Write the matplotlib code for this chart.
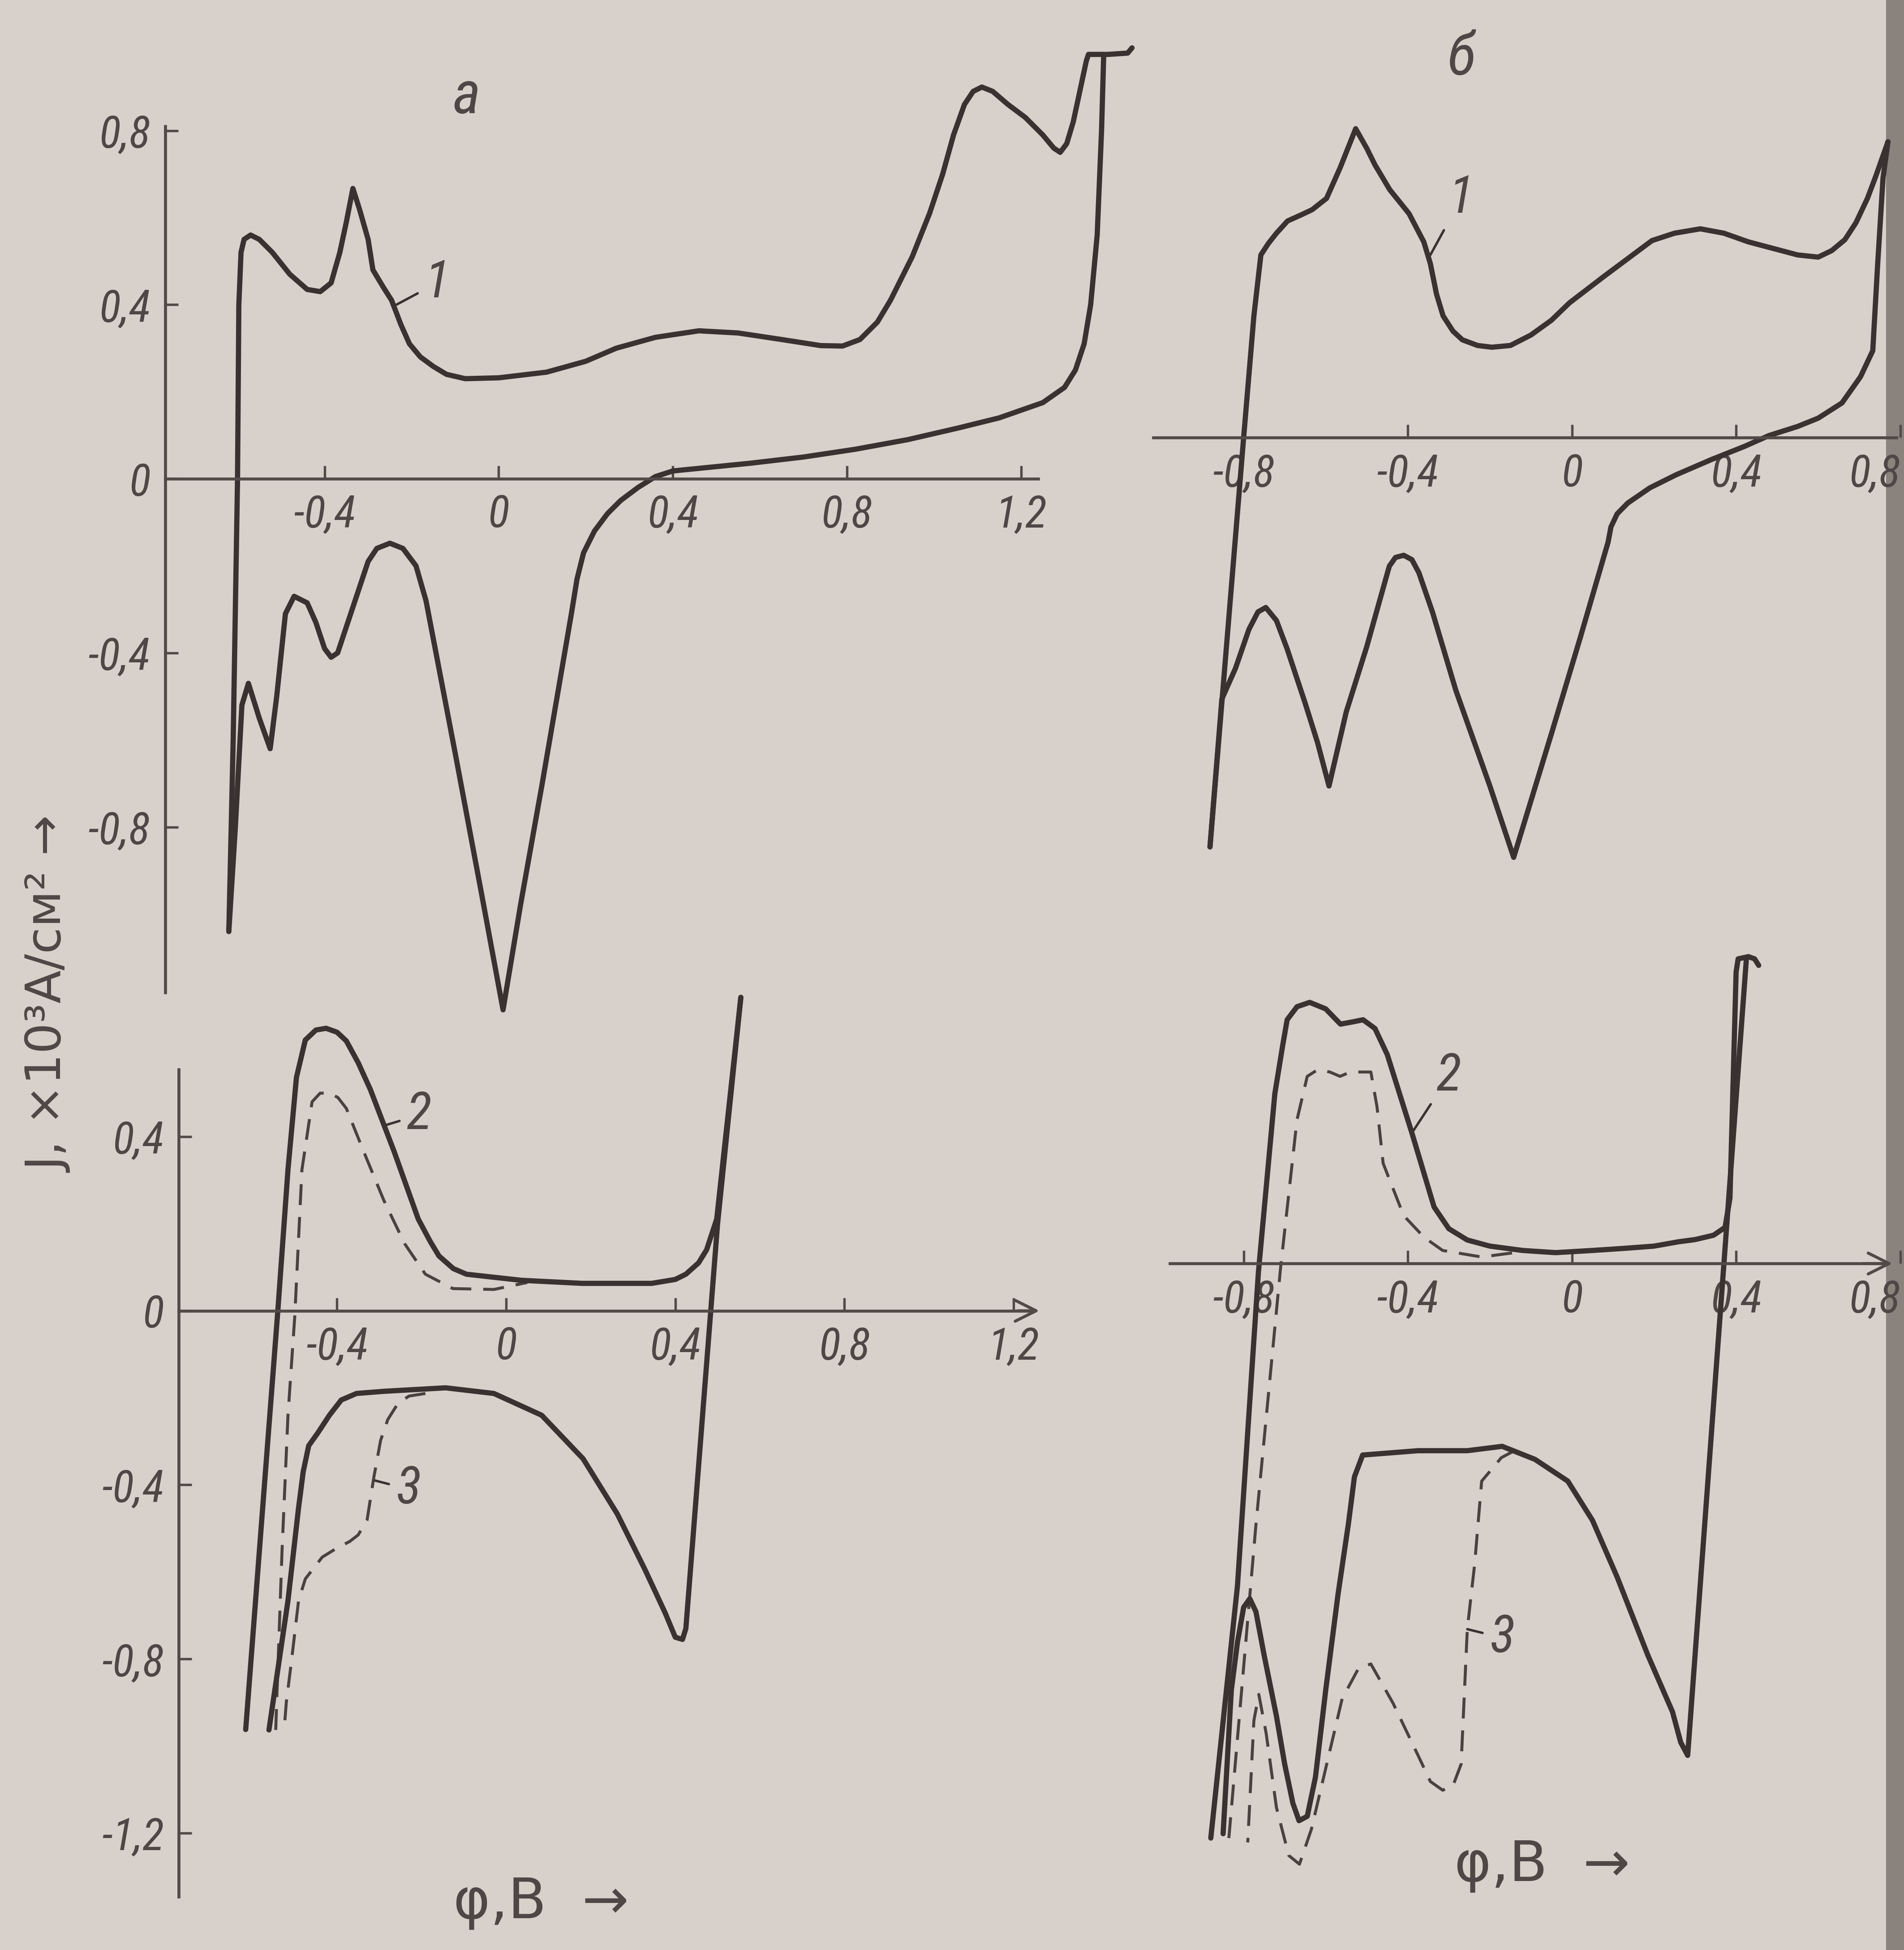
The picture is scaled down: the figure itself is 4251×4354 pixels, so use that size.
import matplotlib
matplotlib.use('Agg')
import matplotlib.pyplot as plt
from matplotlib import font_manager
from matplotlib.ticker import FuncFormatter
from matplotlib.patches import Rectangle

# ---- data (phi in V, J x10^3 A/cm^2) ----
# panel a, curve 1 : anodic and cathodic branches
a1_up_x = [-0.62, -0.61, -0.60, -0.597, -0.592, -0.585, -0.57, -0.55, -0.52, -0.48, -0.44, -0.41,
           -0.385, -0.365, -0.35, -0.335, -0.32, -0.30, -0.289, -0.265, -0.246, -0.225, -0.205,
           -0.18, -0.15, -0.12, -0.077, 0.0, 0.11, 0.20, 0.27, 0.36, 0.46, 0.55, 0.65, 0.74, 0.79,
           0.83, 0.87, 0.90, 0.95, 0.99, 1.02, 1.045, 1.07, 1.09, 1.11, 1.135, 1.17, 1.21, 1.25,
           1.275, 1.29, 1.305, 1.32, 1.335, 1.35, 1.355, 1.40, 1.445, 1.455]
a1_up_y = [-1.04, -0.60, 0.0, 0.40, 0.52, 0.55, 0.56, 0.55, 0.52, 0.47, 0.435, 0.43,
           0.45, 0.52, 0.59, 0.667, 0.62, 0.55, 0.48, 0.44, 0.41, 0.355, 0.31,
           0.28, 0.258, 0.24, 0.23, 0.232, 0.245, 0.27, 0.30, 0.325, 0.34, 0.335, 0.32, 0.306,
           0.305, 0.32, 0.36, 0.41, 0.51, 0.61, 0.70, 0.79, 0.86, 0.89, 0.90, 0.89, 0.86, 0.83,
           0.79, 0.76, 0.75, 0.77, 0.82, 0.89, 0.96, 0.975, 0.975, 0.978, 0.99]
a1_dn_x = [1.39, 1.385, 1.375, 1.36, 1.345, 1.325, 1.30, 1.25, 1.15, 1.057, 0.94, 0.82, 0.70,
           0.58, 0.47, 0.40, 0.36, 0.32, 0.28, 0.25, 0.22, 0.195, 0.18, 0.167, 0.10, 0.05, 0.01,
           -0.04, -0.10, -0.167, -0.19, -0.22, -0.25, -0.28, -0.30, -0.34, -0.37, -0.385, -0.40,
           -0.42, -0.44, -0.47, -0.49, -0.51, -0.525, -0.55, -0.575, -0.59, -0.605, -0.62]
a1_dn_y = [0.975, 0.80, 0.56, 0.40, 0.31, 0.25, 0.21, 0.175, 0.14, 0.117, 0.09, 0.068, 0.05,
           0.036, 0.025, 0.018, 0.005, -0.02, -0.05, -0.08, -0.12, -0.17, -0.23, -0.31, -0.70,
           -0.98, -1.22, -0.95, -0.63, -0.28, -0.20, -0.16, -0.148, -0.16, -0.19, -0.31, -0.40,
           -0.41, -0.39, -0.33, -0.285, -0.27, -0.31, -0.50, -0.62, -0.55, -0.47, -0.52,
           -0.80, -1.04]

# panel a, curve 2 (anodic) and curve 3 (cathodic); solid and dashed runs
a2_x = [-0.616, -0.578, -0.54, -0.516, -0.496, -0.475, -0.45, -0.426, -0.40, -0.378, -0.35,
        -0.321, -0.265, -0.208, -0.18, -0.159, -0.125, -0.094, 0.036, 0.18, 0.344, 0.40, 0.425,
        0.455, 0.474, 0.498, 0.555]
a2_y = [-0.962, -0.48, 0.0, 0.324, 0.536, 0.622, 0.645, 0.649, 0.64, 0.62, 0.57,
        0.508, 0.366, 0.211, 0.16, 0.126, 0.097, 0.084, 0.070, 0.063, 0.063, 0.072, 0.084,
        0.11, 0.14, 0.211, 0.72]
a3_x = [0.555, 0.50, 0.425, 0.417, 0.40, 0.376, 0.328, 0.263, 0.182, 0.084, -0.029, -0.143,
        -0.289, -0.354, -0.39, -0.418, -0.445, -0.467, -0.48, -0.491, -0.516, -0.561]
a3_y = [0.72, 0.20, -0.73, -0.755, -0.75, -0.694, -0.594, -0.467, -0.34, -0.24, -0.19,
        -0.177, -0.185, -0.19, -0.205, -0.24, -0.28, -0.31, -0.37, -0.453, -0.666, -0.963]
a2d_x = [-0.545, -0.53, -0.516, -0.50, -0.483, -0.459, -0.44, -0.418, -0.398, -0.378, -0.337,
         -0.289, -0.24, -0.191, -0.126, -0.029, 0.05]
a2d_y = [-0.963, -0.55, -0.24, -0.014, 0.324, 0.48, 0.50, 0.50, 0.49, 0.465, 0.366,
         0.253, 0.154, 0.084, 0.051, 0.049, 0.065]
a3d_x = [-0.191, -0.23, -0.256, -0.28, -0.297, -0.313, -0.329, -0.35, -0.37, -0.40, -0.435,
         -0.475, -0.491, -0.508, -0.52, -0.525]
a3d_y = [-0.19, -0.196, -0.213, -0.25, -0.298, -0.383, -0.481, -0.515, -0.53, -0.545, -0.566,
         -0.616, -0.666, -0.807, -0.90, -0.963]

# panel b, curve 1
b1_up_x = [-0.882, -0.80, -0.775, -0.758, -0.74, -0.72, -0.693, -0.66, -0.633, -0.598,
           -0.565, -0.527, -0.50, -0.48, -0.444, -0.397, -0.361, -0.345, -0.33, -0.314, -0.29,
           -0.267, -0.23, -0.195, -0.15, -0.10, -0.05, -0.006, 0.077, 0.195, 0.25, 0.313,
           0.37, 0.43, 0.55, 0.60, 0.633, 0.665, 0.692, 0.72, 0.74, 0.77]
b1_up_y = [-0.94, 0.0, 0.28, 0.42, 0.446, 0.47, 0.498, 0.512, 0.524, 0.55,
           0.62, 0.71, 0.665, 0.627, 0.57, 0.515, 0.45, 0.40, 0.33, 0.28, 0.245,
           0.225, 0.212, 0.208, 0.212, 0.236, 0.27, 0.31, 0.37, 0.453, 0.47, 0.48,
           0.47, 0.45, 0.42, 0.415, 0.43, 0.455, 0.494, 0.55, 0.60, 0.68]
b1_dn_x = [0.77, 0.758, 0.745, 0.733, 0.703, 0.658, 0.60, 0.55, 0.48, 0.42, 0.34, 0.254,
           0.19, 0.136, 0.11, 0.095, 0.088, 0.02, -0.05, -0.142, -0.20, -0.283, -0.34, -0.373,
           -0.39, -0.41, -0.43, -0.445, -0.50, -0.55, -0.592, -0.62, -0.65, -0.694, -0.72,
           -0.746, -0.765, -0.787, -0.82, -0.853, -0.882]
b1_dn_y = [0.68, 0.597, 0.40, 0.20, 0.14, 0.08, 0.045, 0.026, 0.005, -0.02, -0.05, -0.085,
           -0.115, -0.15, -0.175, -0.205, -0.24, -0.46, -0.68, -0.964, -0.80, -0.58, -0.40,
           -0.31, -0.28, -0.27, -0.275, -0.295, -0.48, -0.63, -0.80, -0.70, -0.61, -0.485,
           -0.42, -0.39, -0.40, -0.44, -0.53, -0.60, -0.94]

# panel b, curves 2 and 3
b2_x = [-0.88, -0.815, -0.764, -0.724, -0.705, -0.694, -0.67, -0.639, -0.60, -0.564, -0.535,
        -0.509, -0.48, -0.45, -0.39, -0.336, -0.30, -0.255, -0.20, -0.12, -0.04, 0.05, 0.13,
        0.20, 0.26, 0.30, 0.345, 0.373, 0.385, 0.40, 0.405, 0.43, 0.445, 0.455]
b2_y = [-1.32, -0.74, -0.02, 0.39, 0.50, 0.56, 0.59, 0.60, 0.585, 0.55, 0.555,
        0.56, 0.54, 0.48, 0.30, 0.13, 0.08, 0.054, 0.04, 0.03, 0.025, 0.03, 0.035,
        0.04, 0.05, 0.055, 0.065, 0.083, 0.15, 0.67, 0.70, 0.705, 0.70, 0.685]
b3_x = [0.425, 0.282, 0.265, 0.245, 0.185, 0.11, 0.05, -0.01, -0.09, -0.17, -0.255, -0.375,
        -0.51, -0.53, -0.545, -0.57, -0.60, -0.625, -0.645, -0.665, -0.68, -0.70, -0.72,
        -0.75, -0.77, -0.785, -0.80, -0.815, -0.83, -0.85]
b3_y = [0.70, -1.13, -1.10, -1.03, -0.90, -0.72, -0.59, -0.50, -0.45, -0.42, -0.43, -0.43,
        -0.44, -0.49, -0.60, -0.76, -0.98, -1.18, -1.27, -1.28, -1.24, -1.15, -1.04,
        -0.90, -0.80, -0.77, -0.79, -0.87, -0.98, -1.31]
b2d_x = [-0.836, -0.77, -0.71, -0.67, -0.645, -0.62, -0.59, -0.565, -0.54, -0.49, -0.475,
         -0.46, -0.41, -0.36, -0.315, -0.22, -0.10]
b2d_y = [-1.32, -0.60, -0.01, 0.33, 0.43, 0.445, 0.44, 0.43, 0.44, 0.44, 0.36,
         0.23, 0.11, 0.06, 0.03, 0.015, 0.03]
b3d_x = [-0.14, -0.172, -0.22, -0.237, -0.255, -0.27, -0.29, -0.315, -0.345, -0.375, -0.436,
         -0.49, -0.52, -0.56, -0.60, -0.635, -0.664, -0.69, -0.72, -0.745, -0.763, -0.775,
         -0.79]
b3d_y = [-0.43, -0.446, -0.50, -0.69, -0.84, -1.15, -1.20, -1.21, -1.19, -1.13, -1.01,
         -0.92, -0.93, -1.00, -1.16, -1.30, -1.38, -1.36, -1.25, -1.08, -0.99, -1.05,
         -1.33]

a_xticks = [-0.4, 0, 0.4, 0.8, 1.2]
a_top_yticks = [0.8, 0.4, 0, -0.4, -0.8]
a_bot_yticks = [0.4, 0, -0.4, -0.8, -1.2]
b_xticks = [-0.8, -0.4, 0, 0.4, 0.8]

# ---- styling ----
paper = '#d8d1cb'
ink = '#3a3230'
axis_c = '#524a47'
text_c = '#4e4745'

avail = {f.name for f in font_manager.fontManager.ttflist}
narrow = 'DejaVu Sans'
for name in ['Liberation Sans Narrow', 'DejaVu Sans Condensed', 'Roboto Condensed']:
    if name in avail:
        narrow = name
        break
plt.rcParams['font.family'] = [narrow, 'DejaVu Sans']
plt.rcParams['font.stretch'] = 'condensed'
plt.rcParams['font.style'] = 'italic'

fig = plt.figure(figsize=(4251 / 300, 4354 / 300), dpi=300)
fig.patch.set_facecolor(paper)
fig.add_artist(Rectangle((0.991, 0), 0.009, 1, transform=fig.transFigure,
                         color='#8a827d', zorder=0))

REF_W, REF_H = 1531, 1568   # layout measured on the shrunk reference


def comma(v, pos):
    if abs(v) < 1e-9:
        return '0'
    return f'{v:.1f}'.replace('.', ',')


def panel(ox, oy, sx, sy, xlim, ylim):
    l = (ox + xlim[0] * sx) / REF_W
    r = (ox + xlim[1] * sx) / REF_W
    b = 1 - (oy - ylim[0] * sy) / REF_H
    t = 1 - (oy - ylim[1] * sy) / REF_H
    ax = fig.add_axes([l, b, r - l, t - b])
    ax.set_xlim(xlim)
    ax.set_ylim(ylim)
    ax.patch.set_alpha(0)
    for s in ('top', 'right'):
        ax.spines[s].set_visible(False)
    ax.spines['bottom'].set_position(('data', 0))
    for s in ('left', 'bottom'):
        ax.spines[s].set_color(axis_c)
        ax.spines[s].set_linewidth(1.6)
    ax.tick_params(direction='in', length=7, width=1.3, color=axis_c,
                   labelsize=24, labelcolor=text_c, pad=8)
    ax.xaxis.set_major_formatter(FuncFormatter(comma))
    ax.yaxis.set_major_formatter(FuncFormatter(comma))
    return ax


def solid(ax, x, y):
    ax.plot(x, y, color=ink, lw=2.8, solid_joinstyle='round', solid_capstyle='round',
            clip_on=False)


def dashed(ax, x, y):
    ax.plot(x, y, color=ink, lw=1.6, dashes=(7, 4), alpha=0.9, clip_on=False)


def arrow_end(ax, x0, x1):
    ax.annotate('', xy=(x1, 0), xytext=(x0, 0),
                arrowprops=dict(arrowstyle='->', color=axis_c, lw=1.6, mutation_scale=28))


def tag(ax, s, xy, xytext):
    ax.annotate(s, xy=xy, xytext=xytext, fontsize=28, color=text_c, ha='left', va='center',
                arrowprops=dict(arrowstyle='-', color=ink, lw=1.3, shrinkA=2, shrinkB=0))


# panel a, top
ax = panel(401, 385, 350, 350, (-0.80, 1.48), (-1.27, 1.0))
ax.spines['left'].set_position(('data', -0.766))
ax.spines['left'].set_bounds(-1.18, 0.81)
ax.spines['bottom'].set_bounds(-0.766, 1.24)
ax.set_xticks(a_xticks)
ax.set_yticks(a_top_yticks)
solid(ax, a1_up_x, a1_up_y)
solid(ax, a1_dn_x, a1_dn_y)
tag(ax, '1', (-0.235, 0.40), (-0.17, 0.45))

# panel a, bottom
ax = panel(407, 1054, 340, 350, (-0.80, 1.30), (-1.40, 0.75))
ax.spines['left'].set_position(('data', -0.774))
ax.spines['left'].set_bounds(-1.346, 0.554)
ax.spines['bottom'].set_bounds(-0.774, 1.24)
ax.set_xticks(a_xticks)
ax.set_yticks(a_bot_yticks)
arrow_end(ax, 1.20, 1.27)
solid(ax, a2_x, a2_y)
solid(ax, a3_x, a3_y)
dashed(ax, a2d_x, a2d_y)
dashed(ax, a3d_x, a3d_y)
tag(ax, '2', (-0.29, 0.425), (-0.235, 0.45))
tag(ax, '3', (-0.31, -0.39), (-0.26, -0.41))

# panel b, top
ax = panel(1264, 352, 330, 350, (-1.05, 0.82), (-1.0, 0.75))
ax.spines['left'].set_visible(False)
ax.spines['bottom'].set_bounds(-1.02, 0.79)
ax.set_yticks([])
ax.set_xticks(b_xticks)
ax.get_xticklabels()[-1].set_ha('right')
solid(ax, b1_up_x, b1_up_y)
solid(ax, b1_dn_x, b1_dn_y)
tag(ax, '1', (-0.345, 0.42), (-0.30, 0.55))

# panel b, bottom
ax = panel(1264, 1016, 330, 350, (-1.0, 0.83), (-1.45, 0.78))
ax.spines['left'].set_visible(False)
ax.spines['bottom'].set_bounds(-0.98, 0.76)
ax.set_yticks([])
ax.set_xticks(b_xticks)
ax.get_xticklabels()[-1].set_ha('right')
arrow_end(ax, 0.70, 0.79)
solid(ax, b2_x, b2_y)
solid(ax, b3_x, b3_y)
dashed(ax, b2d_x, b2d_y)
dashed(ax, b3d_x, b3d_y)
tag(ax, '2', (-0.39, 0.30), (-0.33, 0.43))
tag(ax, '3', (-0.255, -0.84), (-0.20, -0.86))

# captions
fig.text(375 / REF_W, 1 - 78 / REF_H, 'а', fontsize=32, color=text_c, ha='center', va='center')
fig.text(1175 / REF_W, 1 - 47 / REF_H, 'б', fontsize=32, color=text_c, ha='center', va='center')
fig.text(40 / REF_W, 1 - 800 / REF_H, 'J, ×10³A/см² →', rotation=90, fontsize=26,
         color=text_c, ha='center', va='center', style='normal', family='DejaVu Sans',
         stretch='normal')
fig.text(435 / REF_W, 1 - 1530 / REF_H, 'φ,В  →', fontsize=30, color=text_c,
         ha='center', va='center', style='normal', family='DejaVu Sans', stretch='normal')
fig.text(1240 / REF_W, 1 - 1500 / REF_H, 'φ,В  →', fontsize=30, color=text_c,
         ha='center', va='center', style='normal', family='DejaVu Sans', stretch='normal')

fig.savefig('out.png', dpi=300, facecolor=fig.get_facecolor())
